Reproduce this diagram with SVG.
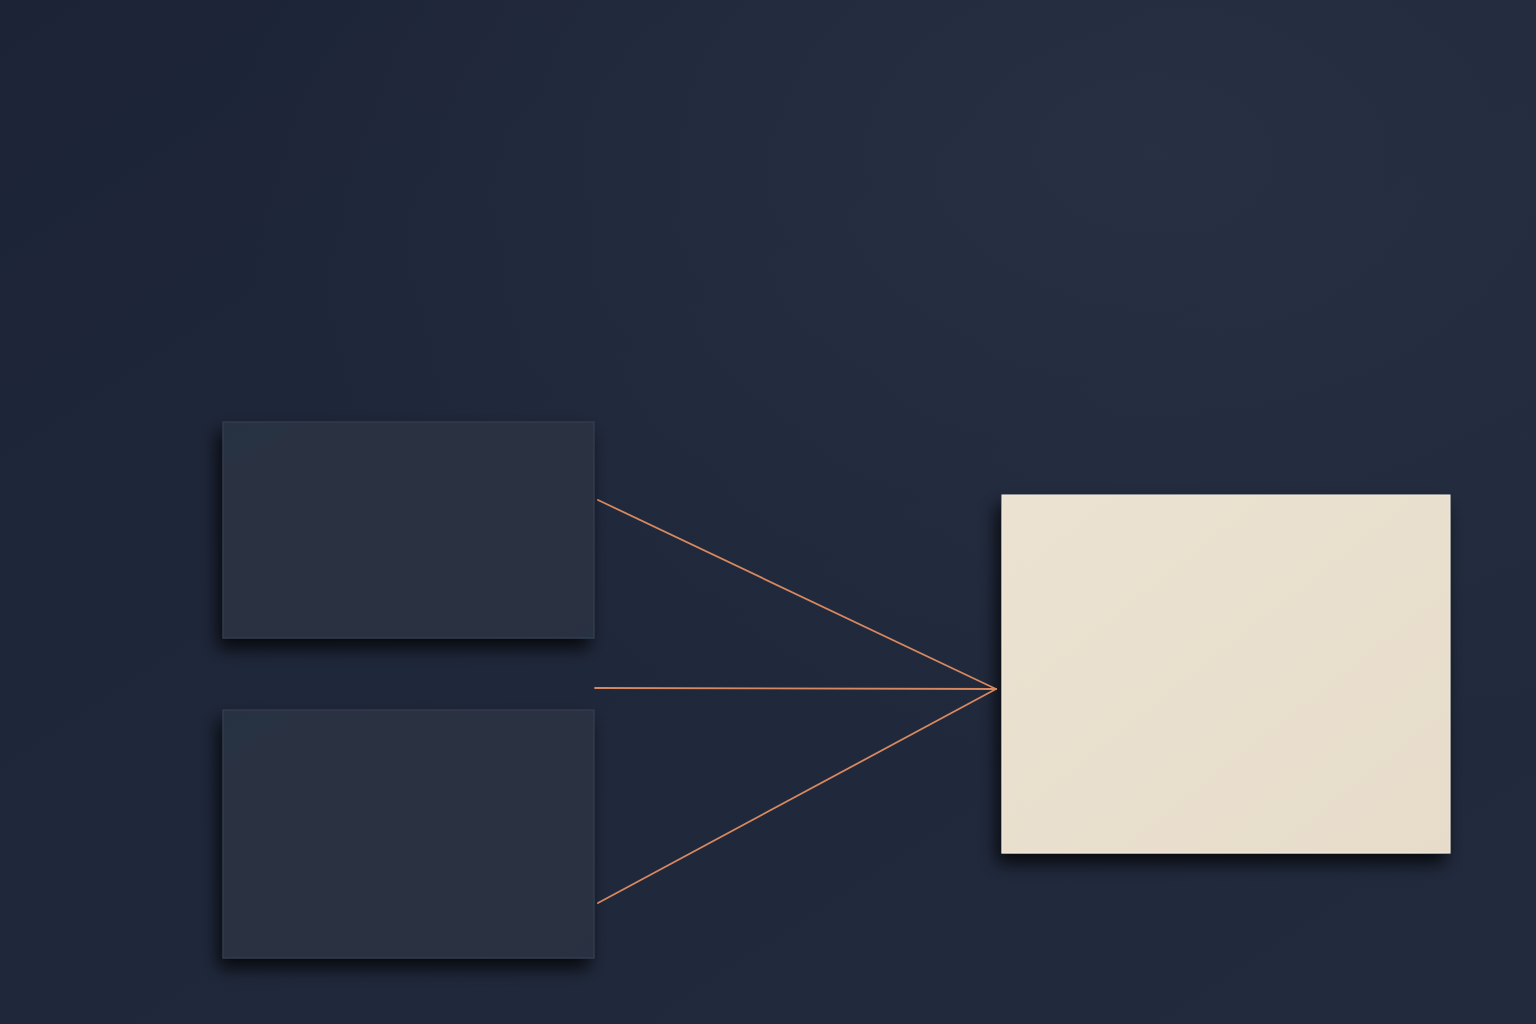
<svg xmlns="http://www.w3.org/2000/svg" width="1536" height="1024" viewBox="0 0 1536 1024">
  <defs>
    <linearGradient id="bg" x1="0" y1="0" x2="1" y2="1">
      <stop offset="0" stop-color="#1c2336"/>
      <stop offset="0.5" stop-color="#1f283b"/>
      <stop offset="1" stop-color="#222b3e"/>
    </linearGradient>
    <radialGradient id="glow" cx="0.75" cy="0.15" r="0.6">
      <stop offset="0" stop-color="#2b3346" stop-opacity="0.7"/>
      <stop offset="1" stop-color="#2b3346" stop-opacity="0"/>
    </radialGradient>
    <linearGradient id="boxfill" x1="0" y1="0" x2="1" y2="1">
      <stop offset="0" stop-color="#283042"/>
      <stop offset="0.5" stop-color="#2b3243"/>
      <stop offset="1" stop-color="#283042"/>
    </linearGradient>
    <linearGradient id="cream" x1="0" y1="0" x2="1" y2="1">
      <stop offset="0" stop-color="#ebe2d1"/>
      <stop offset="1" stop-color="#e7dcca"/>
    </linearGradient>
    <filter id="shadow" x="-20%" y="-20%" width="140%" height="150%">
      <feGaussianBlur in="SourceAlpha" stdDeviation="9"/>
      <feOffset dx="-5" dy="10" result="b"/>
      <feComponentTransfer><feFuncA type="linear" slope="0.8"/></feComponentTransfer>
      <feMerge><feMergeNode/><feMergeNode in="SourceGraphic"/></feMerge>
    </filter>
    <style>
      .box { fill: url(#boxfill); stroke: #384152; stroke-width: 1; }
      .wire { stroke: #d8885f; stroke-width: 1.8; fill: none; stroke-linecap: round; }
    </style>
  </defs>
  <rect width="1536" height="1024" fill="url(#bg)"/>
  <rect width="1536" height="1024" fill="url(#glow)"/>

  <g id="node-top" filter="url(#shadow)">
    <rect class="box" x="223" y="422" width="371" height="216"/>
  </g>
  <g id="node-bottom" filter="url(#shadow)">
    <rect class="box" x="223" y="710" width="371" height="248"/>
  </g>
  <g id="node-target" filter="url(#shadow)">
    <rect x="1002" y="495" width="448" height="358" fill="url(#cream)" stroke="#f3ede2" stroke-width="1"/>
  </g>

  <g id="connectors">
    <line class="wire" x1="598" y1="500" x2="996" y2="689"/>
    <line class="wire" x1="595" y1="688" x2="996" y2="689"/>
    <line class="wire" x1="598" y1="903" x2="996" y2="689"/>
  </g>
</svg>
